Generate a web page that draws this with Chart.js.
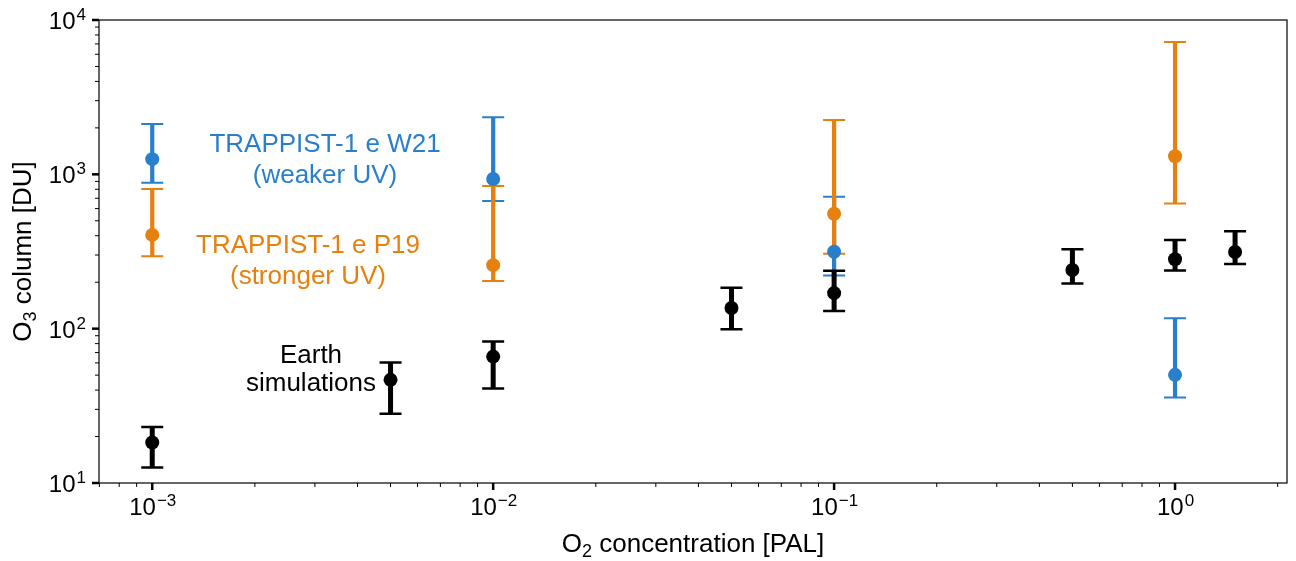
<!DOCTYPE html>
<html>
<head>
<title>O3 column vs O2 concentration</title>
<script src="https://cdn.jsdelivr.net/npm/chart.js"></script>
<style>
  body { margin: 0; background: #fff; }
  #wrap { position: relative; width: 1296px; height: 561px; }
</style>
</head>
<body>
<div id="wrap"><canvas id="o3Chart"></canvas></div>
<script>
  // O2 concentration [PAL] vs O3 column [DU]
  const earthX  = [0.001, 0.005, 0.01, 0.05, 0.1, 0.5, 1.0, 1.5];
  const earthY  = [18.3, 46.6, 65.9, 136, 170, 240, 282, 314];
  const earthLo = [12.6, 28.1, 40.9, 99, 130, 196, 238, 262];
  const earthHi = [23.1, 60.3, 82.6, 184, 237, 327, 376, 428];

  const w21X  = [0.001, 0.01, 0.1, 1.0];
  const w21Y  = [1254, 933, 315, 50.2];
  const w21Lo = [883, 673, 221, 35.8];
  const w21Hi = [2118, 2344, 717, 117];

  const p19X  = [0.001, 0.01, 0.1, 1.0];
  const p19Y  = [405, 258, 555, 1309];
  const p19Lo = [295, 204, 306, 646];
  const p19Hi = [804, 841, 2248, 7215];

  const xTickExps = [-3, -2, -1, 0];
  const yTickExps = [1, 2, 3, 4];

  const FONT = '"Liberation Sans", Arial, Helvetica, sans-serif';
  const BLACK = '#000000';
  const BLUE = '#2a7fcc';
  const ORANGE = '#e6800f';

  function points(xs, ys) {
    return xs.map((x, i) => ({ x: x, y: ys[i] }));
  }

  // drawn blue first, then orange, then black (matches overlap in the figure)
  const errorBars = [
    { xs: w21X, lo: w21Lo, hi: w21Hi, color: BLUE, width: 4.2, capWidth: 2 },
    { xs: p19X, lo: p19Lo, hi: p19Hi, color: ORANGE, width: 4.2, capWidth: 2 },
    { xs: earthX, lo: earthLo, hi: earthHi, color: BLACK, width: 5, capWidth: 2.5 }
  ];

  // text blocks: [lines], centre x pixel, first baseline, line step, colour
  const notes = [
    { lines: ['TRAPPIST-1 e W21', '(weaker UV)'], x: 325, y: 152, step: 31, color: BLUE },
    { lines: ['TRAPPIST-1 e P19', '(stronger UV)'], x: 308, y: 253, step: 31, color: ORANGE },
    { lines: ['Earth', 'simulations'], x: 311, y: 363, step: 28, color: BLACK }
  ];

  // "10" with a raised exponent
  function drawPower(ctx, exp, x, baseline, align) {
    const base = '10';
    const sup = exp < 0 ? '\u2212' + Math.abs(exp) : String(exp);
    ctx.font = '24px ' + FONT;
    const wb = ctx.measureText(base).width;
    ctx.font = '17px ' + FONT;
    const ws = ctx.measureText(sup).width;
    let start = align === 'center' ? x - (wb + ws) / 2 : x - (wb + ws);
    ctx.textAlign = 'left';
    ctx.textBaseline = 'alphabetic';
    ctx.font = '24px ' + FONT;
    ctx.fillText(base, start, baseline);
    ctx.font = '17px ' + FONT;
    ctx.fillText(sup, start + wb + 1, baseline - 9);
  }

  // text with a lowered subscript, centred on x
  function drawSubLabel(ctx, pre, sub, post, x, y) {
    ctx.font = '26px ' + FONT;
    const w1 = ctx.measureText(pre).width;
    const w3 = ctx.measureText(post).width;
    ctx.font = '18px ' + FONT;
    const w2 = ctx.measureText(sub).width;
    let start = x - (w1 + w2 + w3) / 2;
    ctx.textAlign = 'left';
    ctx.textBaseline = 'alphabetic';
    ctx.font = '26px ' + FONT;
    ctx.fillText(pre, start, y);
    ctx.font = '18px ' + FONT;
    ctx.fillText(sub, start + w1, y + 5);
    ctx.font = '26px ' + FONT;
    ctx.fillText(post, start + w1 + w2, y);
  }

  const o3Extras = {
    id: 'o3Extras',
    beforeDatasetsDraw(chart) {
      const ctx = chart.ctx;
      const xs = chart.scales.x, ys = chart.scales.y;
      ctx.save();
      ctx.lineCap = 'butt';
      errorBars.forEach(s => {
        ctx.strokeStyle = s.color;
        s.xs.forEach((xv, i) => {
          const px = xs.getPixelForValue(xv);
          const top = ys.getPixelForValue(s.hi[i]);
          const bot = ys.getPixelForValue(s.lo[i]);
          ctx.lineWidth = s.width;
          ctx.beginPath();
          ctx.moveTo(px, top);
          ctx.lineTo(px, bot);
          ctx.stroke();
          ctx.lineWidth = s.capWidth;
          ctx.beginPath();
          ctx.moveTo(px - 11, top); ctx.lineTo(px + 11, top);
          ctx.moveTo(px - 11, bot); ctx.lineTo(px + 11, bot);
          ctx.stroke();
        });
      });
      ctx.restore();
    },
    afterDraw(chart) {
      const ctx = chart.ctx;
      const area = chart.chartArea;
      const xs = chart.scales.x, ys = chart.scales.y;
      ctx.save();
      ctx.fillStyle = '#000';
      ctx.strokeStyle = '#000';

      // frame
      ctx.lineWidth = 1.2;
      ctx.strokeRect(area.left, area.top, area.right - area.left, area.bottom - area.top);

      // x ticks (log, outward)
      for (let e = -4; e <= 1; e++) {
        for (let m = 1; m <= 9; m++) {
          const v = m * Math.pow(10, e);
          if (v < xs.min || v > xs.max) continue;
          const px = xs.getPixelForValue(v);
          const major = m === 1;
          ctx.lineWidth = major ? 2.5 : 1;
          ctx.beginPath();
          ctx.moveTo(px, area.bottom);
          ctx.lineTo(px, area.bottom + (major ? 7 : 4));
          ctx.stroke();
        }
      }
      // y ticks
      for (let e = 1; e <= 4; e++) {
        for (let m = 1; m <= 9; m++) {
          const v = m * Math.pow(10, e);
          if (v < ys.min || v > ys.max * 1.0001) continue;
          const py = ys.getPixelForValue(v);
          const major = m === 1;
          ctx.lineWidth = major ? 2.5 : 1;
          ctx.beginPath();
          ctx.moveTo(area.left, py);
          ctx.lineTo(area.left - (major ? 7 : 4), py);
          ctx.stroke();
        }
      }

      xTickExps.forEach(e => {
        drawPower(ctx, e, xs.getPixelForValue(Math.pow(10, e)), area.bottom + 32, 'center');
      });
      yTickExps.forEach(e => {
        drawPower(ctx, e, area.left - 14, ys.getPixelForValue(Math.pow(10, e)) + 9, 'right');
      });

      // axis titles
      drawSubLabel(ctx, 'O', '2', ' concentration [PAL]', (area.left + area.right) / 2, 552);
      ctx.save();
      ctx.translate(31, (area.top + area.bottom) / 2);
      ctx.rotate(-Math.PI / 2);
      drawSubLabel(ctx, 'O', '3', ' column [DU]', 0, 0);
      ctx.restore();

      // annotations
      ctx.font = '26px ' + FONT;
      ctx.textAlign = 'center';
      ctx.textBaseline = 'alphabetic';
      notes.forEach(n => {
        ctx.fillStyle = n.color;
        n.lines.forEach((t, i) => ctx.fillText(t, n.x, n.y + i * n.step));
      });
      ctx.restore();
    }
  };

  const ctx = document.getElementById('o3Chart').getContext('2d');
  new Chart(ctx, {
    type: 'scatter',
    data: {
      datasets: [
        { label: 'TRAPPIST-1 e W21', data: points(w21X, w21Y), backgroundColor: BLUE, borderColor: BLUE,
          pointRadius: 7, pointBorderWidth: 0 },
        { label: 'TRAPPIST-1 e P19', data: points(p19X, p19Y), backgroundColor: ORANGE, borderColor: ORANGE,
          pointRadius: 7, pointBorderWidth: 0 },
        { label: 'Earth simulations', data: points(earthX, earthY), backgroundColor: BLACK, borderColor: BLACK,
          pointRadius: 7, pointBorderWidth: 0 }
      ]
    },
    options: {
      responsive: true,
      maintainAspectRatio: false,
      animation: false,
      layout: { padding: { left: 91, right: 9, top: 20, bottom: 70 } },
      scales: {
        x: {
          type: 'logarithmic', min: 6.98e-4, max: 2.13, bounds: 'data',
          grid: { display: false }, border: { display: false }, ticks: { display: false }
        },
        y: {
          type: 'logarithmic', min: 10, max: 10000, bounds: 'data',
          grid: { display: false }, border: { display: false }, ticks: { display: false }
        }
      },
      plugins: { legend: { display: false }, tooltip: { enabled: false } }
    },
    plugins: [o3Extras]
  });
</script>
</body>
</html>
